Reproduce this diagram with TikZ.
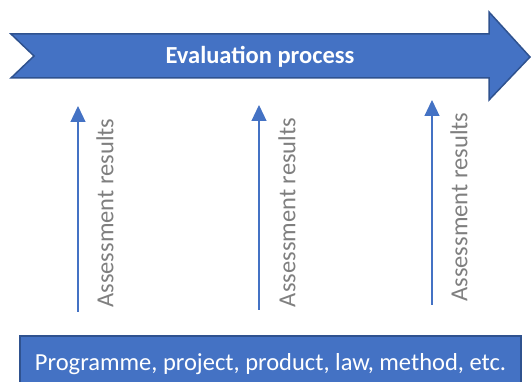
\documentclass[tikz,border=0pt]{standalone}
\usepackage{fontspec}
\setmainfont{Carlito}
\usepackage{tikz}
\usetikzlibrary{arrows.meta}
\definecolor{EvalBlue}{RGB}{68,114,196}
\definecolor{EvalEdge}{RGB}{47,82,143}
\definecolor{EvalGrey}{RGB}{127,127,127}

\begin{document}
\begin{tikzpicture}[x=1pt,y=-1pt,
   shp/.style={fill=EvalBlue,draw=EvalEdge,line width=1.5pt,line join=miter},
   res/.style={-{Triangle[length=16pt,width=15pt]},EvalBlue,line width=1.2pt},
   big/.style={font=\fontsize{24.5}{28}\selectfont},
   lbl/.style={big,rotate=90,text=EvalGrey,inner sep=0pt}]
\useasboundingbox (0,0) rectangle (531,382);
\draw[shp] (11,34) -- (489,34) -- (489,12) -- (530,57) -- (489,100)
   -- (489,78) -- (11,78) -- (34,56) -- cycle;
\node[big,text=white] (proc) at (260,57) {\bfseries Evaluation process};
\node[shp,big,text=white,minimum width=501pt,minimum height=56pt] (obj) at (270.5,364)
   {Programme, project, product, law, method, etc.};
\foreach \i/\x/\tip/\base/\tx/\ty in %
{1/78/106/312/105/213,2/259/105/310/287/212.5,3/432/100/305/459/207} {
   \coordinate (b\i) at (\x,\base);
   \coordinate (t\i) at (\x,\tip);
   \draw[res] (b\i) -- (t\i);
   \node[lbl] (r\i) at (\tx,\ty) {Assessment results};
}
\end{tikzpicture}
\end{document}
